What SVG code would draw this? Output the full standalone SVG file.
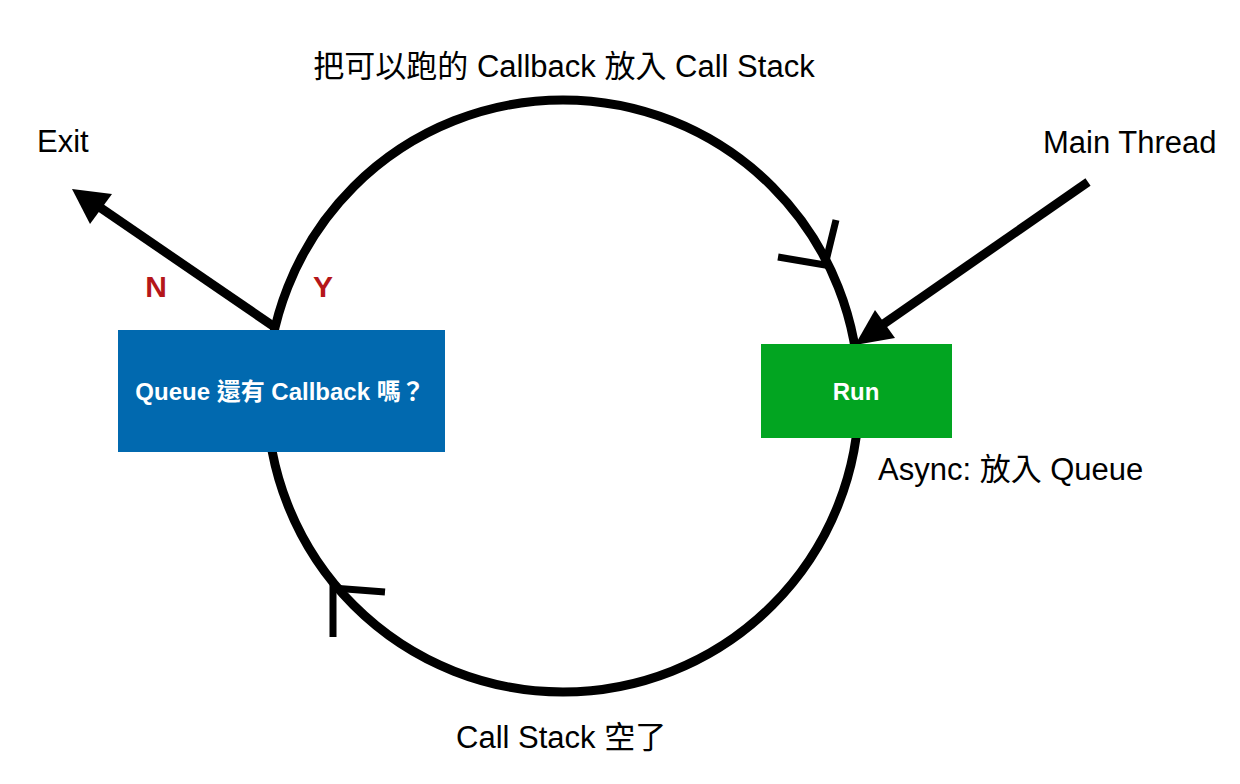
<svg xmlns="http://www.w3.org/2000/svg" width="1240" height="784" viewBox="0 0 1240 784">
<style>
.lbl{font-family:"Liberation Sans","Noto Sans CJK TC",sans-serif;font-size:31px;fill:#000}
.yn{font-family:"Liberation Sans",sans-serif;font-size:30px;font-weight:bold;fill:#B5161A}
.box{font-family:"Liberation Sans","Noto Sans CJK TC",sans-serif;font-size:24px;font-weight:bold;fill:#fff}
.ln{fill:none;stroke:#000;stroke-width:9}
.tick{fill:none;stroke:#000;stroke-width:7;stroke-linecap:butt}
</style>
<rect width="1240" height="784" fill="#fff"/>
<g id="connectors">
<circle class="ln" cx="563" cy="396" r="296"/>
<polyline class="tick" points="778,257 825,265 836,220"/>
<polyline class="tick" points="333,637 333,588 385,592"/>
<line class="ln" x1="276" y1="328" x2="95" y2="204"/>
<polygon points="72,189 112,194 90,224" fill="#000"/>
<line class="ln" x1="1088" y1="182" x2="872" y2="332"/>
<polygon points="855,345 875,310 895,338" fill="#000"/>
</g>
<g id="queue">
<rect x="118" y="330" width="327" height="122" fill="#0169AF"/>
<text class="box" x="280" y="400" text-anchor="middle">Queue 還有 Callback 嗎？</text>
</g>
<g id="run">
<rect x="761" y="344" width="191" height="94" fill="#02A521"/>
<text class="box" x="856" y="400" text-anchor="middle">Run</text>
</g>
<g id="labels">
<text class="lbl" x="564" y="77" text-anchor="middle">把可以跑的 Callback 放入 Call Stack</text>
<text class="lbl" x="37" y="152">Exit</text>
<text class="lbl" x="1043" y="153">Main Thread</text>
<text class="lbl" x="878" y="480">Async: 放入 Queue</text>
<text class="lbl" x="456" y="748">Call Stack 空了</text>
<text class="yn" x="156" y="297" text-anchor="middle">N</text>
<text class="yn" x="323" y="297" text-anchor="middle">Y</text>
</g>
</svg>
